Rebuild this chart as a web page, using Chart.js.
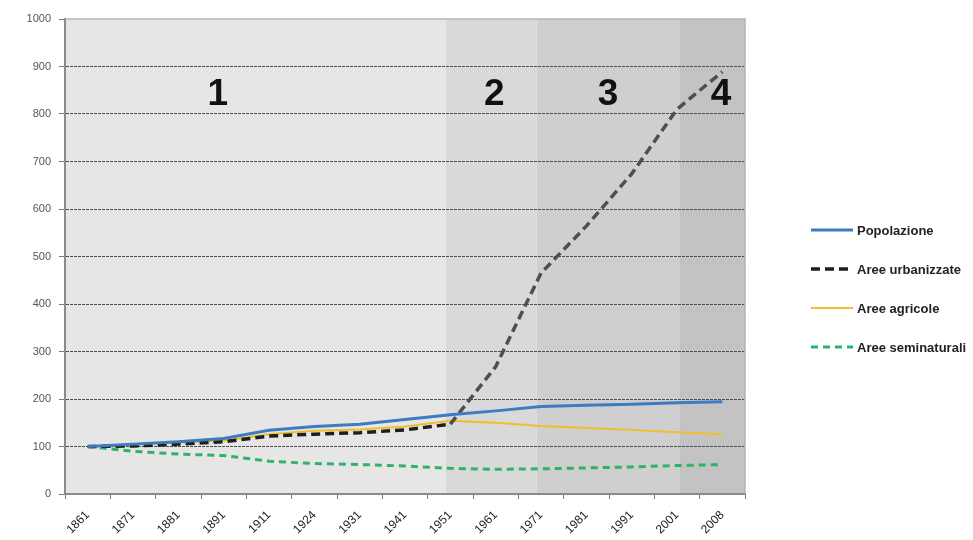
<!DOCTYPE html>
<html>
<head>
<meta charset="utf-8">
<script src="https://cdn.jsdelivr.net/npm/chart.js@4.4.1/dist/chart.umd.min.js"></script>
<style>
  html, body { margin: 0; padding: 0; background: #fff; }
  #wrap { width: 973px; height: 540px; }
</style>
</head>
<body>
<div id="wrap"><canvas id="chart"></canvas></div>
<script>
const anni = ["1861", "1871", "1881", "1891", "1911", "1924", "1931", "1941", "1951", "1961", "1971", "1981", "1991", "2001", "2008"]
const popolazione = [100, 105, 110, 117, 134, 142, 147, 157, 167, 175, 184, 187, 189, 192, 194]
const areeUrbanizzate = [100, 101, 105, 110, 122, 126, 129, 135, 147, 268, 465, 564, 674, 810, 889]
const areeAgricole = [100, 104, 108, 112, 126, 133, 136, 142, 154, 150, 143, 139, 135, 130, 126]
const areeSeminaturali = [100, 90, 84, 81, 69, 64, 62, 59, 54, 52, 53, 55, 57, 60, 62]

// fasi: etichetta, inizio e fine (in unita' di categoria), posizione del numero
const fasi = ["1", "2", "3", "4"]
const fasiInizio = [-0.5, 7.9, 9.9, 13.05]
const fasiFine = [7.9, 9.9, 13.05, 14.5]
const fasiEtichettaX = [2.87, 8.97, 11.48, 13.97]
const fasiColori = ["#e6e6e6", "#d9d9d9", "#cfcfcf", "#c3c3c3"]

Chart.defaults.font.family = "'Liberation Sans', Arial, sans-serif"

const fasiPlugin = {
  id: "fasi",
  beforeDraw(chart) {
    const { ctx, chartArea: a, scales: { x } } = chart
    ctx.save()
    fasi.forEach((f, i) => {
      const x1 = x.getPixelForValue(fasiInizio[i])
      const x2 = x.getPixelForValue(fasiFine[i])
      ctx.fillStyle = fasiColori[i]
      ctx.fillRect(x1, a.top, x2 - x1, a.bottom - a.top)
    })
    ctx.restore()
  },
  afterDatasetsDraw(chart) {
    const { ctx, scales: { x, y } } = chart
    ctx.save()
    ctx.fillStyle = "#111"
    ctx.font = "bold 37px 'Liberation Sans', Arial, sans-serif"
    ctx.textAlign = "center"
    ctx.textBaseline = "middle"
    fasi.forEach((f, i) => {
      ctx.fillText(f, x.getPixelForValue(fasiEtichettaX[i]), y.getPixelForValue(840))
    })
    ctx.restore()
  },
  afterDraw(chart) {
    const { ctx, chartArea: a } = chart
    ctx.save()
    // bordo superiore e destro dell'area del grafico
    ctx.strokeStyle = "#b5b5b5"
    ctx.lineWidth = 1.5
    ctx.beginPath()
    ctx.moveTo(a.left, a.top)
    ctx.lineTo(a.right, a.top)
    ctx.lineTo(a.right, a.bottom)
    ctx.stroke()

    // legenda
    const yStart = 230
    const step = 39
    chart.data.datasets.forEach((ds, i) => {
      const yy = yStart + i * step
      ctx.strokeStyle = ds.borderColor
      ctx.lineWidth = ds.borderWidth
      ctx.setLineDash(ds.borderDash || [])
      ctx.beginPath()
      ctx.moveTo(811, yy)
      ctx.lineTo(853, yy)
      ctx.stroke()
      ctx.setLineDash([])
      ctx.fillStyle = "#222"
      ctx.font = "bold 13px 'Liberation Sans', Arial, sans-serif"
      ctx.textAlign = "left"
      ctx.textBaseline = "middle"
      ctx.fillText(ds.label, 857, yy + 1)
    })
    ctx.restore()
  }
}

new Chart(document.getElementById("chart"), {
  type: "line",
  data: {
    labels: anni,
    datasets: [
      {
        label: "Popolazione",
        data: popolazione,
        borderColor: "#3b7dc0",
        borderWidth: 3,
        pointRadius: 0
      },
      {
        label: "Aree urbanizzate",
        data: areeUrbanizzate,
        borderColor: "#1e1e1e",
        borderWidth: 3.5,
        borderDash: [9, 5],
        pointRadius: 0,
        segment: {
          borderColor: (c) => c.p0DataIndex >= 8 ? "#4f4f4f" : "#1e1e1e"
        }
      },
      {
        label: "Aree agricole",
        data: areeAgricole,
        borderColor: "#f0bd2c",
        borderWidth: 2,
        pointRadius: 0
      },
      {
        label: "Aree seminaturali",
        data: areeSeminaturali,
        borderColor: "#2fb36c",
        borderWidth: 3,
        borderDash: [7, 5],
        pointRadius: 0
      }
    ]
  },
  options: {
    responsive: true,
    maintainAspectRatio: false,
    animation: false,
    layout: {
      padding: { top: 19, right: 228, left: 0, bottom: 0 }
    },
    plugins: {
      legend: { display: false },
      tooltip: { enabled: false }
    },
    scales: {
      x: {
        offset: true,
        grid: {
          offset: true,
          drawOnChartArea: false,
          drawTicks: true,
          tickLength: 5,
          tickColor: "#777"
        },
        border: { color: "#8a8a8a", width: 2 },
        ticks: {
          color: "#222",
          font: { size: 12 },
          minRotation: 45,
          maxRotation: 45,
          autoSkip: false,
          padding: 9
        },
        afterFit(scale) {
          scale.height = 46
        }
      },
      y: {
        min: 0,
        max: 1000,
        grid: {
          color: (c) => (c.tick && (c.tick.value === 0 || c.tick.value === 1000)) ? "rgba(0,0,0,0)" : "#4d4d4d",
          lineWidth: 1,
          tickLength: 6,
          tickColor: "#777"
        },
        border: { color: "#8a8a8a", width: 2, dash: [3, 1] },
        ticks: {
          stepSize: 100,
          color: "#555",
          font: { size: 11 },
          padding: 8,
          callback: (v) => String(v)
        },
        afterFit(scale) {
          scale.width = 65
        }
      }
    }
  },
  plugins: [fasiPlugin]
})
</script>
</body>
</html>
